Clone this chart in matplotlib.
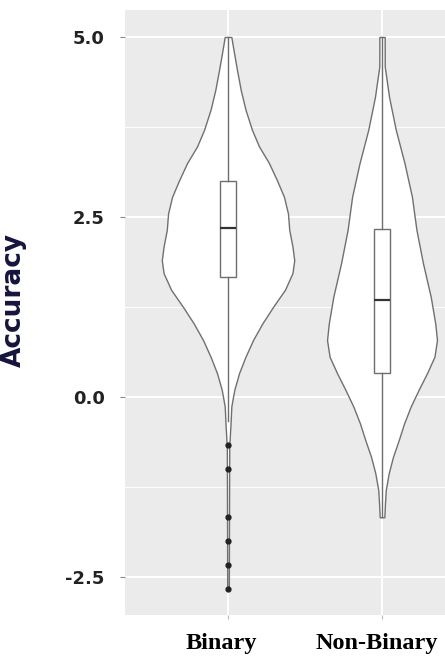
import matplotlib.pyplot as plt
import matplotlib.transforms as mtransforms
import numpy as np

# 类别
groups = ['Binary', 'Non-Binary']

# violin outline: accuracy level and relative density
binary_y = [5.0, 4.82, 4.54, 4.26, 3.99, 3.71, 3.48, 3.25, 3.01, 2.78, 2.55,
            2.32, 2.09, 1.9, 1.72, 1.49, 1.25, 1.02, 0.79, 0.56, 0.33, 0.1,
            -0.13, -0.37, -0.7, -2.67]
binary_d = [0.05, 0.083, 0.136, 0.193, 0.264, 0.362, 0.468, 0.618, 0.739,
            0.845, 0.905, 0.925, 0.973, 1.0, 0.973, 0.86, 0.679, 0.517, 0.377,
            0.264, 0.166, 0.095, 0.05, 0.038, 0.018, 0.012]
nonbin_y = [5.0, 4.59, 4.17, 3.71, 3.25, 2.78, 2.32, 1.86, 1.39, 1.02, 0.79,
            0.56, 0.33, 0.1, -0.13, -0.37, -0.6, -0.83, -1.06, -1.29, -1.47,
            -1.67]
nonbin_d = [0.04, 0.041, 0.106, 0.208, 0.339, 0.452, 0.52, 0.618, 0.736,
            0.804, 0.83, 0.792, 0.679, 0.553, 0.434, 0.332, 0.252, 0.166,
            0.101, 0.057, 0.045, 0.035]

# 箱线图统计量
q1 = [1.67, 0.33]
med = [2.35, 1.35]
q3 = [3.0, 2.33]
whis_lo = [-0.33, -1.67]
whis_hi = [5.0, 5.0]
binary_outliers = [-0.67, -1.0, -1.67, -2.0, -2.33, -2.67]

fig = plt.figure(figsize=(4.45, 6.57), dpi=100)
ax = fig.add_axes([125 / 445, 1 - 615 / 657, 320 / 445, 605 / 657])
ax.set_facecolor('#EBEBEB')

pos = [1, 2]
half = 0.43  # max half width of violins
for p, ys, ds in [(1, binary_y, binary_d), (2, nonbin_y, nonbin_d)]:
    ys = np.array(ys)
    ds = np.array(ds) * half
    ax.fill_betweenx(ys, p - ds, p + ds, facecolor='white',
                     edgecolor='#707070', linewidth=1.0, zorder=2)

stats = []
for i in range(2):
    stats.append({'med': med[i], 'q1': q1[i], 'q3': q3[i],
                  'whislo': whis_lo[i], 'whishi': whis_hi[i],
                  'fliers': binary_outliers if i == 0 else []})
ax.bxp(stats, positions=pos, widths=0.1, showcaps=False, patch_artist=True,
       boxprops=dict(facecolor='white', edgecolor='#6e6e6e', linewidth=1.0),
       medianprops=dict(color='#333333', linewidth=1.6),
       whiskerprops=dict(color='#6e6e6e', linewidth=1.0),
       flierprops=dict(marker='o', markersize=3.5, markerfacecolor='#222222',
                       markeredgecolor='#222222'),
       zorder=3)

ax.set_xlim(0.331, 2.409)
ax.set_ylim(-3.028, 5.375)
ax.set_yticks([-2.5, 0.0, 2.5, 5.0])
ax.set_yticks([-1.25, 1.25, 3.75], minor=True)
ax.set_yticklabels(['-2.5', '0.0', '2.5', '5.0'], fontsize=13,
                   fontweight='bold', color='#222222')
ax.set_xticks(pos)
ax.set_xticklabels(groups, fontsize=17.5, fontweight='bold',
                   family='Liberation Serif', color='black')
ax.grid(which='major', color='white', linewidth=1.4)
ax.grid(which='minor', axis='y', color='white', linewidth=0.7)
ax.set_axisbelow(True)
ax.tick_params(axis='y', which='major', length=3.5, color='#888888', pad=11)
ax.tick_params(axis='y', which='minor', length=0)
ax.tick_params(axis='x', length=3, color='#bbbbbb', pad=10)
for s in ax.spines.values():
    s.set_visible(False)

# 标签稍微向左
offs = [-7, -5]
for lab, o in zip(ax.get_xticklabels(), offs):
    lab.set_transform(lab.get_transform() +
                      mtransforms.ScaledTranslation(o / 100, 0, fig.dpi_scale_trans))

ax.set_ylabel('Accuracy', fontsize=19, fontweight='bold', color='#14143c')
ax.yaxis.set_label_coords(-0.306, 0.52)

plt.savefig('out.png', dpi=100)
